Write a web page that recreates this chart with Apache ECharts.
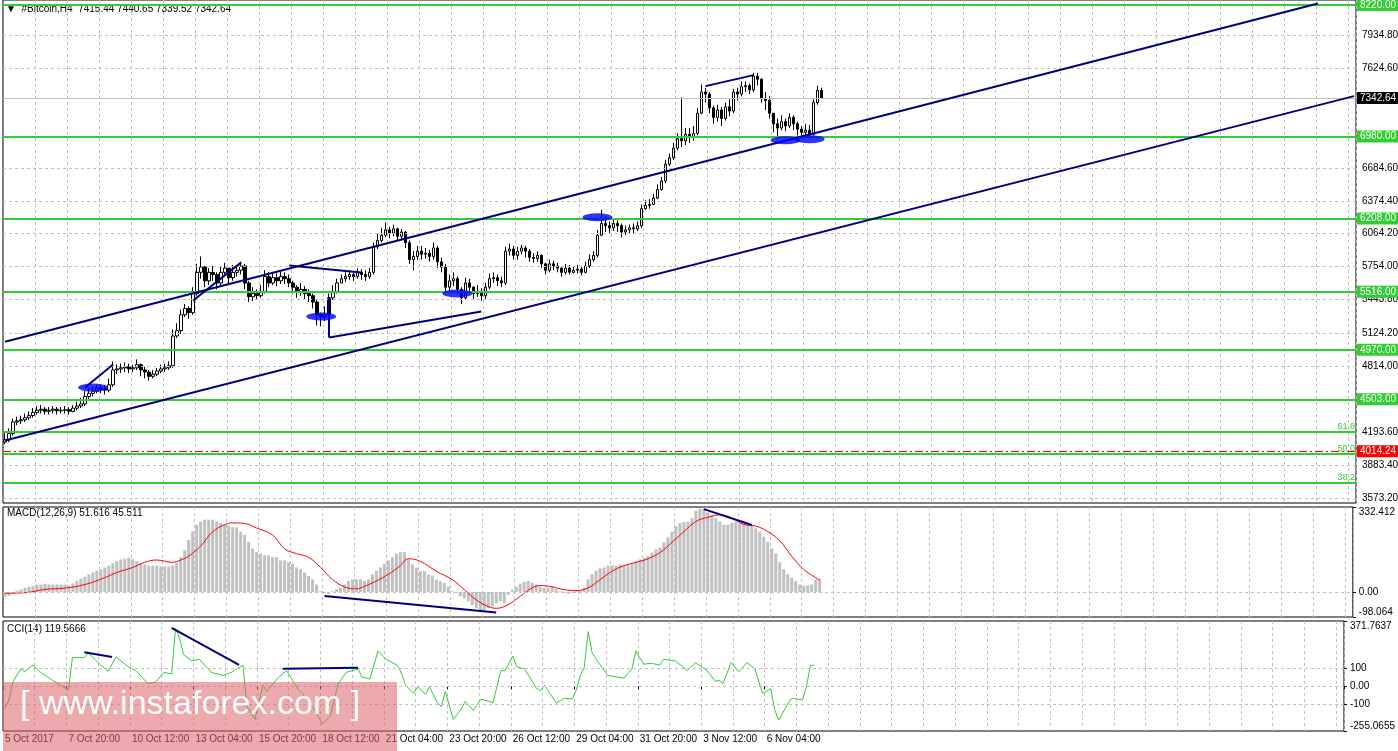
<!DOCTYPE html>
<html><head><meta charset="utf-8">
<script src="https://cdn.jsdelivr.net/npm/echarts@6/dist/echarts.min.js"></script>
<style>html,body{margin:0;padding:0;background:#fff}#c{width:1398px;height:751px}</style>
</head><body><div id="c"></div>
<script>
const closes=[4120,4180,4290,4300,4310,4330,4350,4380,4400,4410,
4390,4400,4410,4395,4400,4405,4390,4420,4440,4460,
4530,4560,4580,4610,4600,4590,4640,4780,4790,4800,
4810,4790,4800,4830,4780,4760,4720,4740,4770,4790,
4800,4820,5100,5150,5300,5360,5320,5500,5700,5750,
5620,5700,5680,5600,5700,5740,5650,5700,5720,5760,
5600,5470,5500,5480,5520,5660,5600,5650,5620,5660,
5640,5600,5560,5520,5540,5500,5480,5420,5300,5280,
5300,5460,5520,5600,5640,5660,5680,5660,5700,5680,
5660,5700,5940,6000,6050,6100,6070,6110,6040,6080,
5980,5820,5850,5900,5870,5880,5850,5930,5800,5750,
5560,5620,5640,5540,5460,5600,5560,5500,5520,5480,
5560,5640,5650,5620,5600,5900,5920,5860,5900,5930,
5900,5840,5830,5860,5780,5720,5780,5760,5740,5700,
5740,5700,5720,5730,5700,5760,5820,5860,6050,6160,
6140,6120,6160,6140,6080,6100,6120,6110,6140,6300,
6330,6340,6400,6480,6560,6720,6780,6870,6960,6940,
7000,6980,7010,7200,7400,7380,7250,7160,7230,7150,
7260,7220,7400,7380,7450,7460,7420,7550,7520,7340,
7320,7200,7100,7060,7120,7080,7160,7100,7050,7020,
7040,7000,7300,7415.44,7342.64];
const highs=[4200,4230,4320,4340,4350,4370,4390,4420,4440,4450,
4430,4430,4440,4430,4430,4440,4430,4450,4480,4520,
4580,4610,4620,4640,4640,4640,4700,4860,4830,4840,
4850,4840,4830,4880,4840,4810,4780,4780,4800,4830,
4840,4860,5160,5220,5350,5400,5380,5560,5780,5850,
5760,5740,5760,5700,5760,5790,5740,5770,5760,5800,
5780,5620,5560,5540,5580,5720,5700,5700,5690,5710,
5700,5680,5620,5580,5600,5570,5540,5500,5440,5320,
5380,5500,5580,5640,5680,5700,5720,5700,5740,5730,
5720,5740,5980,6070,6120,6170,6130,6150,6120,6110,
6090,6000,5900,5950,5950,5930,5910,5980,5950,5840,
5780,5680,5700,5660,5560,5650,5640,5570,5580,5550,
5600,5690,5700,5680,5660,5940,5970,5950,5940,5960,
5950,5920,5880,5900,5870,5790,5820,5810,5790,5760,
5780,5770,5760,5770,5760,5800,5870,5900,6100,6290,
6230,6180,6200,6190,6160,6140,6150,6160,6180,6340,
6380,6390,6440,6530,6600,6760,6820,6920,7010,7350,
7060,7060,7080,7250,7470,7440,7400,7270,7280,7260,
7300,7330,7430,7440,7500,7500,7480,7580,7580,7530,
7400,7360,7200,7150,7180,7150,7200,7180,7120,7080,
7100,7090,7330,7460,7440.65];
const lows=[4080,4100,4160,4260,4270,4290,4310,4330,4360,4370,
4360,4360,4370,4360,4370,4370,4360,4380,4400,4420,
4440,4500,4530,4560,4560,4550,4570,4620,4740,4750,
4760,4750,4760,4780,4720,4700,4680,4700,4720,4750,
4760,4780,4800,5080,5120,5280,5260,5300,5480,5640,
5560,5580,5620,5540,5580,5680,5600,5620,5660,5680,
5540,5420,5430,5440,5460,5500,5560,5580,5570,5590,
5590,5560,5500,5460,5480,5440,5420,5360,5200,5190,
5240,5280,5440,5500,5600,5610,5630,5620,5640,5630,
5620,5640,5680,5920,5980,6030,6020,6040,6000,6010,
5930,5780,5720,5820,5820,5830,5800,5820,5740,5700,
5500,5520,5570,5500,5400,5440,5500,5450,5470,5430,
5450,5540,5600,5570,5560,5580,5860,5820,5820,5870,
5840,5800,5790,5800,5740,5680,5700,5720,5700,5660,
5680,5680,5690,5690,5670,5690,5740,5800,5840,6040,
6080,6070,6090,6080,6030,6050,6070,6060,6090,6120,
6290,6300,6340,6390,6470,6540,6700,6760,6850,6880,
6900,6920,6940,6990,7190,7300,7200,7100,7120,7080,
7130,7170,7200,7320,7360,7400,7380,7400,7460,7300,
7230,7150,7020,6950,7040,7030,7060,7040,6990,6980,
6970,6960,6990,7280,7339.52];
const firstOpen=4100;
const macdHist=[-19,-15,-5,5,10,16,20,23,29,29,
32,29,29,29,29,29,25,33,43,52,
60,69,76,83,89,96,103,112,120,127,
130,134,128,120,113,107,103,103,103,100,
100,100,103,113,136,163,203,236,263,276,
283,283,283,276,270,263,260,253,253,236,
223,196,170,156,150,143,143,136,136,123,
123,116,110,96,89,76,63,49,29,3,
-4,-8,3,10,16,29,43,49,49,49,
43,49,69,83,96,110,123,136,150,156,
156,128,108,95,81,81,68,64,48,42,
35,21,3,-4,-17,-24,-37,-51,-64,-71,
-71,-64,-57,-44,-37,-44,-11,9,20,32,
39,43,36,29,20,16,16,20,12,3,
-4,-8,-4,3,5,16,49,69,83,92,
96,103,103,103,106,103,106,111,120,127,
133,140,154,167,174,194,214,236,257,270,
274,275,289,318,325,325,312,302,289,276,
263,263,270,274,270,266,263,263,249,236,
216,196,170,150,116,89,69,56,43,29,
23,26,29,49,51.616];
const signalPts=[[0,-5],[5,-3],[10,10],[15,15],[20,29],[25,56],[28,76],[32,96],[35,116],[38,125],[42,116],[44,125],[46,140],[49,180],[52,236],[55,263],[57,270],[60,268],[63,250],[67,223],[70,169],[73,150],[76,136],[79,96],[82,49],[85,20],[88,12],[90,22],[93,43],[96,69],[99,103],[101,130],[104,120],[108,81],[112,48],[115,9],[118,-31],[121,-57],[123,-64],[126,-50],[129,-17],[132,16],[134,25],[137,20],[140,9],[143,5],[146,16],[149,48],[152,81],[155,103],[158,116],[161,130],[164,154],[167,194],[170,236],[173,276],[176,292],[179,302],[182,289],[185,264],[188,258],[191,236],[194,200],[197,140],[200,88],[203,56],[204,45.511]];
const cciPts=[[0,-124],[1,-78],[2,24],[4,100],[5,83],[7,120],[9,79],[12,33],[16,-22],[17,163],[20,163],[21,190],[24,124],[26,85],[28,167],[31,111],[33,89],[36,15],[38,24],[40,79],[42,70],[43,330],[44,274],[45,182],[47,145],[49,154],[52,79],[55,61],[57,79],[60,120],[61,-115],[63,-189],[65,6],[66,-30],[69,52],[71,89],[74,-22],[75,-41],[78,-133],[80,-217],[82,-170],[84,15],[86,79],[89,98],[90,52],[92,42],[94,200],[96,154],[99,118],[100,70],[101,5],[103,-41],[104,-4],[106,-45],[107,-4],[109,-96],[110,-115],[111,-30],[113,-189],[115,-130],[116,-87],[118,-137],[120,-74],[123,-93],[125,89],[126,89],[128,172],[129,111],[131,98],[134,-13],[135,-26],[136,5],[139,-96],[141,-69],[143,-72],[144,-22],[145,61],[146,107],[147,311],[148,190],[150,122],[152,61],[156,46],[158,98],[159,200],[161,126],[163,131],[165,120],[166,154],[169,144],[172,89],[174,135],[177,89],[179,28],[180,33],[181,15],[183,135],[185,83],[187,135],[189,98],[191,-41],[193,-13],[194,-133],[195,-193],[198,-74],[199,-69],[201,-78],[202,-4],[203,118],[204,119.5666]];
const priceTicks=[3573.2,3883.4,4193.6,4814,5124.2,5443.8,5754,6064.2,6374.4,6684.6,7624.6,7934.8];
const fibBoxed=[[8220,'261.8'],[6980,'200.0'],[6208,'161.8'],[5516,'127.2'],[4970,'100.0'],[4503,'76.4']];
const fibPlain=[[4195,'61.8'],[3988,'50.0'],[3717,'38.2']];
const redLevel=4014.24, lastPrice=7342.64;
const macdTicks=[332.412,0,-98.064];
const cciTicks=[371.7637,100,0,-100,-255.0655];
const N=338, lastBar=204;

const mon=['Jan','Feb','Mar','Apr','May','Jun','Jul','Aug','Sep','Oct','Nov','Dec'];
const t0=Date.UTC(2017,9,5,4);
const cats=[];
for(let i=0;i<N;i++){const d=new Date(t0+i*4*3600e3);
 const hh=String(d.getUTCHours()).padStart(2,'0');
 cats.push(i===0?'5 Oct 2017':d.getUTCDate()+' '+mon[d.getUTCMonth()]+' '+hh+':00');}
const ohlc=closes.map((c,i)=>[i===0?firstOpen:closes[i-1],c,lows[i],highs[i]]);

const F='"Liberation Sans", Arial, sans-serif';
const navy='#00007f', green='#32cd32';
const dash={color:'#c0c0c0',type:[3,3],width:1};
function hline(v,label){return {yAxis:v,lineStyle:dash,label:label};}
const mainML=[];
priceTicks.forEach(v=>mainML.push(hline(v,{show:true,position:'end',formatter:v.toFixed(2),color:'#000',fontSize:10,fontFamily:F,distance:6})));
mainML.push({yAxis:lastPrice,lineStyle:{color:'#c0c0c0',type:'solid',width:1},label:{show:true,position:'end',formatter:lastPrice.toFixed(2),color:'#fff',backgroundColor:'#000',fontSize:10,fontFamily:F,padding:[1,3],distance:1}});
fibBoxed.forEach(([v,t])=>{
 mainML.push({yAxis:v,lineStyle:{color:green,width:2,type:'solid'},label:{show:true,position:'end',formatter:v.toFixed(2),color:'#fff',backgroundColor:green,fontSize:10,fontFamily:F,padding:[1,3],distance:1}});
 mainML.push({yAxis:v,lineStyle:{opacity:0},label:{show:true,position:'insideEndTop',formatter:t,color:green,fontSize:9,fontFamily:F,distance:1}});
});
fibPlain.forEach(([v,t])=>{
 mainML.push({yAxis:v,lineStyle:{color:green,width:2,type:'solid'},label:{show:true,position:'insideEndTop',formatter:t,color:green,fontSize:9,fontFamily:F,distance:1}});
});
mainML.push({yAxis:redLevel,lineStyle:{color:'#ff0000',width:1,type:[8,3,2,3]},label:{show:true,position:'end',formatter:redLevel.toFixed(2),color:'#fff',backgroundColor:'#ff0000',fontSize:10,fontFamily:F,padding:[1,3],distance:1}});
function seg(a,b){return [{coord:a,lineStyle:{color:navy,width:2,type:'solid'},label:{show:false}},{coord:b}];}
[[[0,5046],[328,8234]],[[0,4115],[337,7361]],
 [[19.75,4614],[27.25,4831]],[[47.25,5435],[59.25,5794]],
 [[70.5,5765],[88.5,5699]],[[80.5,5086],[119.25,5331]],[[80.5,5086],[80.5,5470]],
 [[175.25,7455],[187.25,7559]]].forEach(s=>mainML.push(seg(s[0],s[1])));

const ellipses=[[22,4614],[79,5284],[113,5501],[148,6219],[195,6945],[201,6955]];

const xBase=(gi,showLabel)=>({type:'category',gridIndex:gi,data:cats,boundaryGap:true,
 axisLine:{show:false},axisTick:{show:showLabel,interval:(i)=>i%16===0&&i<=lastBar,length:3,lineStyle:{color:'#000'}},
 axisLabel:{show:showLabel,interval:(i)=>i%16===0&&i<=lastBar,align:'left',fontSize:10,fontFamily:F,color:'#000',margin:3},
 splitLine:{show:true,interval:(i)=>i%8===0&&i>0,lineStyle:dash}});
const yBase=(gi,min,max,ticks,fmt)=>({type:'value',gridIndex:gi,min:min,max:max,position:'right',scale:true,
 splitLine:{show:false},axisLine:{show:false},axisTick:{show:!!ticks,customValues:ticks||[],length:3,lineStyle:{color:'#000'}},
 axisLabel:{show:!!ticks,customValues:ticks||[],fontSize:10,fontFamily:F,color:'#000',margin:6,formatter:fmt,
  verticalAlignMaxLabel:'bottom',verticalAlignMinLabel:'top'}});

const opt={animation:false,backgroundColor:'#fff',
 grid:[{left:3,right:42,top:0,height:503,show:true,borderColor:'#000',borderWidth:1},
  {left:3,right:42,top:507,height:110,show:true,borderColor:'#000',borderWidth:1},
  {left:3,right:42,top:621,height:110,show:true,borderColor:'#000',borderWidth:1}],
 xAxis:[xBase(0,false),xBase(1,false),xBase(2,true)],
 yAxis:[yBase(0,3526,8267,null),yBase(1,-98.064,332.412,macdTicks,v=>v===0?'0.00':String(v)),
  yBase(2,-255.0655,371.7637,cciTicks,v=>v===0?'0.00':String(v))],
 series:[
  {type:'candlestick',xAxisIndex:0,yAxisIndex:0,data:ohlc,barWidth:3,
   itemStyle:{color:'#fff',color0:'#000',borderColor:'#000',borderColor0:'#000',borderWidth:1},
   markLine:{symbol:'none',silent:true,animation:false,data:mainML}},
  {type:'scatter',xAxisIndex:0,yAxisIndex:0,data:ellipses,symbol:'circle',symbolSize:[30,8],itemStyle:{color:'#0000ff'},z:5},
  {type:'bar',xAxisIndex:1,yAxisIndex:1,data:macdHist,barWidth:3,itemStyle:{color:'#c0c0c0'},
   markLine:{symbol:'none',silent:true,data:[hline(0,{show:false}),
    seg([80.25,-16],[122.75,-80]),seg([174.75,324],[187.25,262])]}},
  {type:'line',xAxisIndex:1,yAxisIndex:1,data:signalPts,smooth:0.4,showSymbol:false,lineStyle:{color:'#ff0000',width:1},z:4},
  {type:'line',xAxisIndex:2,yAxisIndex:2,data:cciPts,showSymbol:false,lineStyle:{color:green,width:1},
   markLine:{symbol:'none',silent:true,data:[hline(100,{show:false}),hline(0,{show:false}),hline(-100,{show:false}),
    seg([20.25,194],[27.25,167]),seg([42.25,333],[59.25,122]),seg([70.25,100],[88.5,105])]}}
 ],
 graphic:[
  {type:'text',left:6,top:4,style:{text:'▼  #Bitcoin,H4  7415.44 7440.65 7339.52 7342.64',font:'10px '+F,fill:'#000'}},
  {type:'text',left:7,top:508,style:{text:'MACD(12,26,9) 51.616 45.511',font:'10px '+F,fill:'#000'}},
  {type:'text',left:7,top:624,style:{text:'CCI(14) 119.5666',font:'10px '+F,fill:'#000'}},
  {type:'rect',left:3,top:682,shape:{width:394,height:69},style:{fill:'rgba(220,100,110,0.55)'},z:100},
  {type:'text',left:20,top:688,style:{text:'[ www.instaforex.com ]',font:'34px "Liberation Sans", sans-serif',fill:'#fff'},z:101}
 ]};
echarts.init(document.getElementById('c')).setOption(opt);
</script></body></html>
